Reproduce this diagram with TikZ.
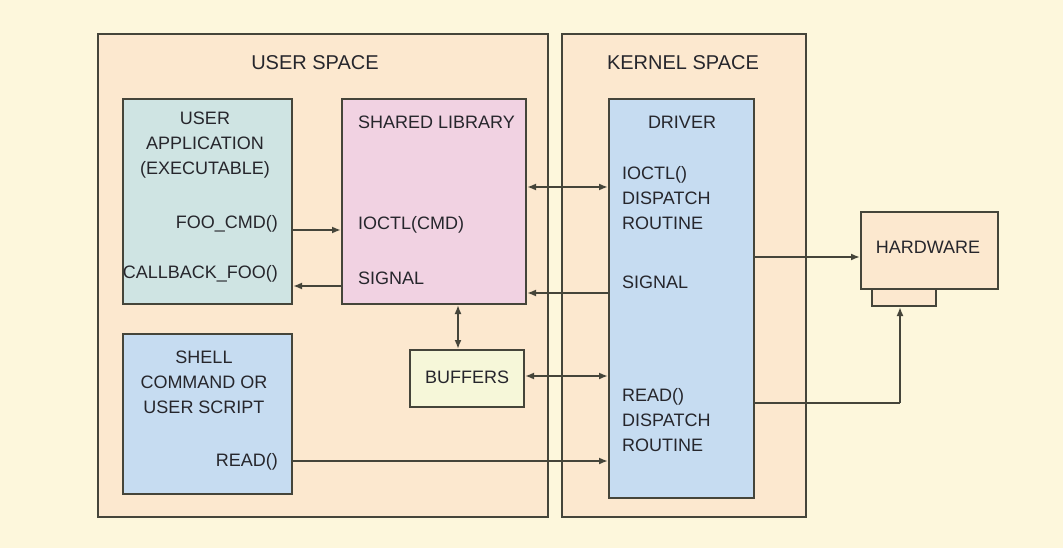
\documentclass[tikz,border=0pt]{standalone}
\usepackage{fontspec}
\setmainfont{Liberation Sans}
\usetikzlibrary{arrows.meta}
\definecolor{bgc}{HTML}{FDF7DC}
\definecolor{spacec}{HTML}{FCE8CF}
\definecolor{appc}{HTML}{CFE4E3}
\definecolor{libc}{HTML}{F1D2E2}
\definecolor{drvc}{HTML}{C6DCF1}
\definecolor{bufc}{HTML}{F6F7D9}
\definecolor{hwc}{HTML}{FCE8CF}
\definecolor{linec}{HTML}{45453A}
\definecolor{txtc}{HTML}{26262C}
\tikzset{
  boxst/.style={draw=linec, line width=2pt, inner sep=0pt, anchor=north west},
  lbl/.style={text=txtc, font=\fontsize{18}{25}\selectfont, inner sep=0pt, align=center},
  ttl/.style={text=txtc, font=\fontsize{20}{24}\selectfont, inner sep=0pt},
  arr/.style={draw=linec, line width=1.8pt, -{Latex[length=9pt,width=7pt]}},
  darr/.style={draw=linec, line width=1.8pt, {Latex[length=9pt,width=7pt]}-{Latex[length=9pt,width=7pt]}},
  ln/.style={draw=linec, line width=1.8pt}
}
\begin{document}
\begin{tikzpicture}[x=1pt,y=-1pt]
\fill[bgc] (0,0) rectangle (1063,548);
\useasboundingbox (0,0) rectangle (1063,548);
% space boxes
\node[boxst, fill=spacec, minimum width=450pt, minimum height=483pt] (us) at (97,33) {};
\node[boxst, fill=spacec, minimum width=244pt, minimum height=483pt] (ks) at (561,33) {};
\node[ttl] (ustitle) at (315,63) {USER SPACE};
\node[ttl] (kstitle) at (683,63) {KERNEL SPACE};
% inner boxes
\node[boxst, fill=appc, minimum width=169pt, minimum height=205pt] (app) at (122,98) {};
\node[boxst, fill=libc, minimum width=184pt, minimum height=205pt] (lib) at (341,98) {};
\node[boxst, fill=drvc, minimum width=145pt, minimum height=399pt] (drv) at (608,98) {};
\node[boxst, fill=drvc, minimum width=169pt, minimum height=160pt] (sh) at (122,333) {};
\node[boxst, fill=bufc, minimum width=114pt, minimum height=57pt] (buf) at (409,349) {};
\node[boxst, fill=hwc, minimum width=137pt, minimum height=77pt] (hw) at (860,211) {};
\node[boxst, fill=hwc, minimum width=64pt, minimum height=17pt] (tab) at (871,288) {};
% labels
\node[lbl] (appt) at (205,145) {USER\\APPLICATION\\(EXECUTABLE)};
\node[lbl, anchor=east] (foo) at (278,224) {FOO\_CMD()};
\node[lbl, anchor=east] (cb) at (278,274) {CALLBACK\_FOO()};
\node[lbl, anchor=west] (libt) at (358,122) {SHARED LIBRARY};
\node[lbl, anchor=west] (ioc) at (358,225) {IOCTL(CMD)};
\node[lbl, anchor=west] (sig) at (358,278) {SIGNAL};
\node[lbl] (drvt) at (682,122) {DRIVER};
\node[lbl, anchor=north west, align=left] (iocd) at (622,166) {IOCTL()\\DISPATCH\\ROUTINE};
\node[lbl, anchor=west] (sigd) at (622,282) {SIGNAL};
\node[lbl, anchor=north west, align=left] (readd) at (622,388) {READ()\\DISPATCH\\ROUTINE};
\node[lbl] (hwt) at (928,247) {HARDWARE};
\node[lbl] (sht) at (204,382) {SHELL\\COMMAND OR\\USER SCRIPT};
\node[lbl, anchor=east] (rd) at (278,462) {READ()};
\node[lbl] (buft) at (467,377) {BUFFERS};
% connectors
\draw[arr] (app.east |- 0,230) -- (lib.west |- 0,230);
\draw[arr] (lib.west |- 0,286) -- (app.east |- 0,286);
\draw[darr] (lib.east |- 0,187) -- (drv.west |- 0,187);
\draw[arr] (drv.west |- 0,293) -- (lib.east |- 0,293);
\draw[darr] (lib.south -| 458,0) -- (buf.north -| 458,0);
\draw[darr] (buf.east |- 0,376) -- (drv.west |- 0,376);
\draw[arr] (sh.east |- 0,461) -- (drv.west |- 0,461);
\draw[arr] (drv.east |- 0,257) -- (hw.west |- 0,257);
\coordinate (bend) at (900,403);
\draw[ln] (drv.east |- bend) -- (bend);
\draw[arr] (bend) -- (tab.south -| bend);
\end{tikzpicture}
\end{document}
